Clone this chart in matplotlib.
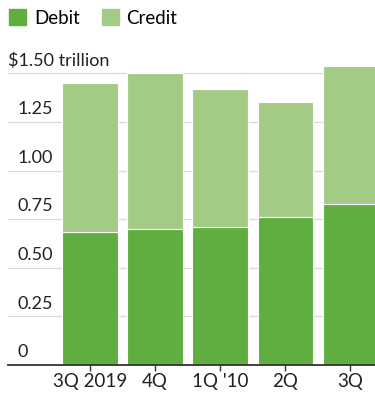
import matplotlib.pyplot as plt
from matplotlib.patches import Patch
from matplotlib.transforms import blended_transform_factory

# quarterly card balances, trillions of dollars
quarters = ['3Q 2019', '4Q', "1Q '10", '2Q', '3Q']
debit = [0.684, 0.70, 0.71, 0.76, 0.83]
credit = [0.766, 0.80, 0.71, 0.593, 0.71]
yticks = [0, 0.25, 0.50, 0.75, 1.00, 1.25, 1.50]
ytick_labels = ['0', '0.25', '0.50', '0.75', '1.00', '1.25', '$1.50 trillion']

debit_color = '#5fae3f'
credit_color = '#a4cb86'

plt.rcParams['font.family'] = ['Lato', 'DejaVu Sans']

fig = plt.figure(figsize=(3.75, 3.97), dpi=100)
ax = fig.add_axes([0.021, 0.0806, 0.979, 0.7834])

x = list(range(len(quarters)))
ax.bar(x, debit, width=0.85, color=debit_color, edgecolor='white', linewidth=0.8, zorder=2)
ax.bar(x, credit, bottom=debit, width=0.85, color=credit_color, edgecolor='white', linewidth=0.8, zorder=2)

ax.set_xlim(-1.26, 4.38)
ax.set_ylim(0, 1.6)

# gridlines with labels sitting on top of them
trans = blended_transform_factory(ax.transAxes, ax.transData)
for v, lab in zip(yticks, ytick_labels):
    if v > 0:
        ax.axhline(v, color='#d9d9d9', linewidth=0.9, zorder=1)
    xpos = 0.0 if lab.startswith('$') else 0.025
    ax.text(xpos, v + 0.025, lab, transform=trans, fontsize=13, color='#222222',
            ha='left', va='bottom', zorder=3)

ax.set_yticks([])
ax.set_xticks(x)
ax.set_xticklabels(quarters, fontsize=13.5, color='#222222')
ax.tick_params(axis='x', length=4, width=1, color='#333333', pad=2)

for s in ['top', 'right', 'left']:
    ax.spines[s].set_visible(False)
ax.spines['bottom'].set_color('#333333')
ax.spines['bottom'].set_linewidth(1.3)

handles = [Patch(color=debit_color, label='Debit'), Patch(color=credit_color, label='Credit')]
fig.legend(handles=handles, loc='upper left', bbox_to_anchor=(0.0, 1.0), ncol=2, frameon=False,
           fontsize=13.5, handlelength=0.9, handleheight=0.9, handletextpad=0.4,
           columnspacing=1.2, borderaxespad=0.2, borderpad=0.3)

fig.savefig('out.png', dpi=100)
